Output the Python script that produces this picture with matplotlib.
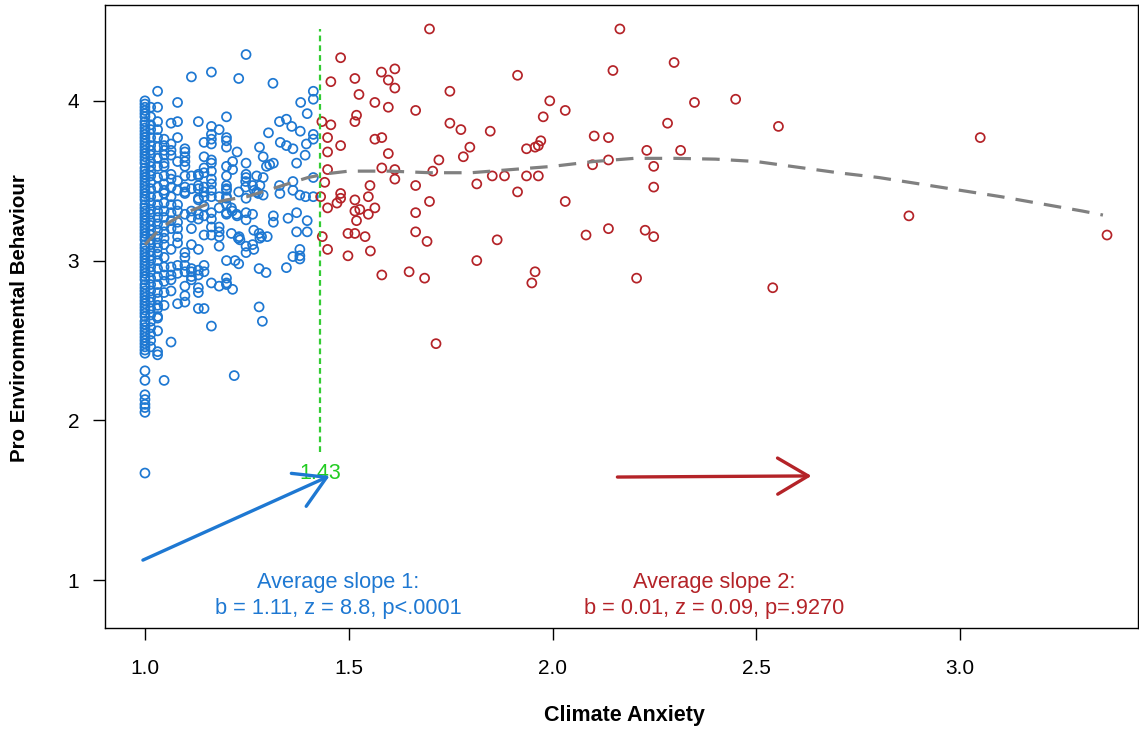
import matplotlib
matplotlib.use('Agg')
import matplotlib.pyplot as plt
from matplotlib import font_manager

names = {f.name for f in font_manager.fontManager.ttflist}
FONT = 'Liberation Sans' if 'Liberation Sans' in names else 'DejaVu Sans'
plt.rcParams['font.family'] = [FONT, 'DejaVu Sans']

BLUE = '#1E78D2'
RED = '#B42328'
GREEN = '#33CC33'
GREY = '#808080'

# ---------------- data ----------------
# Blue group (Climate Anxiety below split): dense columns
blue_col_x = [1.000, 1.014, 1.031, 1.047, 1.064, 1.080, 1.098, 1.114, 1.131, 1.145,
              1.163, 1.182, 1.200]
blue_col_y = [
    [4.00, 3.98, 3.96, 3.94, 3.92, 3.90, 3.87, 3.85, 3.83, 3.81, 3.79, 3.77, 3.75, 3.73,
     3.71, 3.69, 3.67, 3.65, 3.63, 3.61, 3.58, 3.56, 3.54, 3.52, 3.50, 3.48, 3.46, 3.44,
     3.42, 3.40, 3.38, 3.35, 3.33, 3.31, 3.29, 3.27, 3.25, 3.23, 3.21, 3.19, 3.17, 3.15,
     3.13, 3.10, 3.08, 3.06, 3.04, 3.02, 3.00, 2.98, 2.96, 2.94, 2.92, 2.90, 2.88, 2.85,
     2.83, 2.81, 2.79, 2.77, 2.75, 2.73, 2.71, 2.69, 2.67, 2.65, 2.62, 2.60, 2.58, 2.56,
     2.54, 2.52, 2.50, 2.48, 2.46, 2.44, 2.42, 2.31, 2.25, 2.16, 2.13, 2.10, 2.08, 2.05,
     1.67],
    [3.96, 3.90, 3.85, 3.82, 3.77, 3.72, 3.69, 3.66, 3.62, 3.59, 3.56, 3.53, 3.49, 3.45,
     3.40, 3.36, 3.32, 3.29, 3.25, 3.22, 3.19, 3.16, 3.13, 3.10, 3.06, 3.03, 3.00, 2.96,
     2.93, 2.89, 2.85, 2.81, 2.77, 2.74, 2.70, 2.66, 2.62, 2.58, 2.54, 2.50, 2.46],
    [4.06, 3.96, 3.87, 3.82, 3.77, 3.71, 3.64, 3.59, 3.52, 3.46, 3.40, 3.35, 3.31, 3.27,
     3.23, 3.19, 3.15, 3.11, 3.08, 3.04, 3.00, 2.95, 2.90, 2.85, 2.80, 2.76, 2.72, 2.70,
     2.65, 2.64, 2.56, 2.43, 2.41],
    [3.76, 3.72, 3.69, 3.66, 3.61, 3.59, 3.53, 3.48, 3.44, 3.42, 3.36, 3.31, 3.27, 3.22,
     3.18, 3.14, 3.10, 3.02, 2.96, 2.91, 2.87, 2.80, 2.72, 2.25],
    [3.86, 3.73, 3.69, 3.66, 3.54, 3.51, 3.46, 3.40, 3.35, 3.30, 3.25, 3.20, 3.07, 2.96,
     2.91, 2.88, 2.81, 2.49],
    [3.99, 3.87, 3.77, 3.62, 3.50, 3.44, 3.35, 3.31, 3.24, 3.20, 3.15, 3.11, 2.97, 2.92,
     2.73],
    [3.70, 3.68, 3.65, 3.62, 3.59, 3.53, 3.46, 3.43, 3.42, 3.29, 3.05, 3.02, 2.97, 2.93,
     2.84, 2.78, 2.74],
    [4.15, 3.53, 3.45, 3.31, 3.27, 3.20, 3.10, 2.95, 2.93, 2.90, 2.88],
    [3.87, 3.54, 3.53, 3.47, 3.45, 3.39, 3.38, 3.29, 3.26, 3.07, 2.94, 2.91, 2.83, 2.80,
     2.70],
    [3.74, 3.65, 3.58, 3.55, 3.46, 3.43, 3.40, 3.34, 3.28, 3.16, 2.97, 2.93, 2.70],
    [4.18, 3.84, 3.79, 3.76, 3.73, 3.63, 3.61, 3.56, 3.51, 3.48, 3.44, 3.40, 3.30, 3.26,
     3.21, 3.16, 2.86, 2.59],
    [3.82, 3.40, 3.33, 3.21, 3.18, 3.15, 3.09, 2.84],
    [3.90, 3.77, 3.75, 3.71, 3.59, 3.53, 3.47, 3.45, 3.44, 3.40, 3.39, 3.35, 3.30, 3.29,
     3.00, 2.89, 2.86, 2.85],
]
# Blue group: scattered points
blue_extra_x = [1.215, 1.215, 1.230, 1.212, 1.225, 1.212, 1.229, 1.233, 1.221, 1.230,
                1.215, 1.214, 1.226, 1.231, 1.226, 1.219, 1.230,
                1.248, 1.248, 1.248, 1.248, 1.247, 1.247, 1.248, 1.248, 1.248, 1.248, 1.248,
                1.264, 1.274, 1.274, 1.264, 1.264, 1.267, 1.267, 1.268, 1.278,
                1.281, 1.290, 1.290, 1.290, 1.298, 1.306, 1.303, 1.280, 1.286, 1.300, 1.280,
                1.297, 1.280, 1.288, 1.282, 1.282,
                1.314, 1.315, 1.315, 1.315, 1.330, 1.332, 1.330, 1.331,
                1.347, 1.360, 1.347, 1.363, 1.363, 1.363, 1.351, 1.363, 1.347,
                1.382, 1.381, 1.396, 1.393, 1.372, 1.380, 1.394, 1.372, 1.398, 1.372, 1.398,
                1.380, 1.380, 1.380, 1.398,
                1.413, 1.413, 1.413, 1.413, 1.413, 1.413]
blue_extra_y = [3.62, 3.57, 3.43, 3.33, 3.29, 3.17, 3.14, 3.13, 3.00, 2.98,
                2.82, 3.31, 3.28, 3.15, 3.68, 2.28, 4.14,
                4.29, 3.61, 3.54, 3.52, 3.495, 3.46, 3.30, 3.255, 3.09, 3.05, 3.39,
                3.47, 3.43, 3.53, 3.29, 3.10, 3.07, 3.19, 3.44, 3.42,
                3.71, 3.65, 3.52, 3.41, 3.59, 3.60, 3.80, 3.17, 3.15, 3.15, 2.95,
                2.925, 2.71, 2.62, 3.47, 3.14,
                4.11, 3.61, 3.28, 3.24, 3.87, 3.74, 3.47, 3.42,
                3.885, 3.84, 3.72, 3.70, 3.495, 3.44, 3.265, 3.025, 2.956,
                3.99, 3.81, 3.73, 3.66, 3.61, 3.41, 3.40, 3.30, 3.25, 3.18, 3.18,
                3.07, 3.03, 3.01, 3.92,
                4.06, 4.01, 3.79, 3.76, 3.52, 3.40]

# Red group (Climate Anxiety above split)
red_x = [1.480, 1.456, 1.515, 1.525, 1.580, 1.613, 1.597, 1.613, 1.698, 1.564,
         1.597, 1.664, 1.748, 1.914, 1.993, 1.977, 1.434, 1.456, 1.519, 1.515,
         1.748, 1.775, 1.847, 1.448, 1.564, 1.581, 1.480, 1.448, 1.597, 1.797,
         1.781, 1.721, 1.936, 1.957, 1.965, 1.971, 1.448, 1.581, 1.613, 1.706,
         1.613, 1.441, 1.431, 1.552, 1.664, 1.814, 1.852, 1.882, 1.936, 1.965,
         1.914, 1.480, 1.480, 1.548, 1.471, 1.448, 1.515, 1.515, 1.527, 1.564,
         1.548, 1.664, 1.698, 1.519, 1.435, 1.498, 1.515, 1.540, 1.664, 1.692,
         1.864, 1.448, 1.553, 1.498, 1.814, 1.581, 1.648, 1.686, 1.957, 1.949,
         1.714, 2.165, 2.298, 2.148, 2.031, 2.348, 2.449, 2.282, 2.554, 2.102,
         2.137, 2.231, 2.314, 2.098, 2.137, 2.248, 2.248, 2.031, 2.082, 2.137,
         2.227, 2.248, 2.206, 2.540, 3.049, 2.874, 3.360]
red_y = [4.27, 4.12, 4.14, 4.04, 4.18, 4.20, 4.13, 4.08, 4.45, 3.99,
         3.96, 3.94, 4.06, 4.16, 4.00, 3.90, 3.87, 3.85, 3.91, 3.87,
         3.86, 3.82, 3.81, 3.77, 3.76, 3.77, 3.72, 3.68, 3.67, 3.71,
         3.65, 3.63, 3.70, 3.71, 3.72, 3.75, 3.57, 3.58, 3.57, 3.56,
         3.51, 3.49, 3.40, 3.47, 3.47, 3.48, 3.53, 3.53, 3.53, 3.53,
         3.43, 3.42, 3.39, 3.40, 3.36, 3.33, 3.38, 3.31, 3.32, 3.33,
         3.29, 3.30, 3.37, 3.25, 3.15, 3.17, 3.17, 3.15, 3.18, 3.12,
         3.13, 3.07, 3.06, 3.03, 3.00, 2.91, 2.93, 2.89, 2.93, 2.86,
         2.48, 4.45, 4.24, 4.19, 3.94, 3.99, 4.01, 3.86, 3.84, 3.78,
         3.77, 3.69, 3.69, 3.60, 3.63, 3.59, 3.46, 3.37, 3.16, 3.20,
         3.19, 3.15, 2.89, 2.83, 3.77, 3.28, 3.16]

# Smoothed overall trend (grey dashed curve)
curve_x = [1.00, 1.03, 1.06, 1.10, 1.15, 1.20, 1.25, 1.30, 1.35, 1.40, 1.45, 1.50,
           1.60, 1.70, 1.80, 1.90, 2.00, 2.10, 2.20, 2.30, 2.40, 2.50, 2.60, 2.70,
           2.80, 2.90, 3.00, 3.10, 3.20, 3.30, 3.35]
curve_y = [3.10, 3.18, 3.24, 3.30, 3.35, 3.38, 3.40, 3.44, 3.48, 3.52, 3.545, 3.56,
           3.56, 3.55, 3.55, 3.57, 3.59, 3.62, 3.64, 3.64, 3.635, 3.62, 3.585, 3.55,
           3.52, 3.48, 3.44, 3.40, 3.355, 3.31, 3.285]

split_point = 1.43
split_label = '1.43'

slope1_lines = ['Average slope 1:', 'b = 1.11, z = 8.8, p<.0001']
slope2_lines = ['Average slope 2:', 'b = 0.01, z = 0.09, p=.9270']

x_ticks = [1.0, 1.5, 2.0, 2.5, 3.0]
x_ticklabels = ['1.0', '1.5', '2.0', '2.5', '3.0']
y_ticks = [1, 2, 3, 4]
y_ticklabels = ['1', '2', '3', '4']

# ---------------- figure ----------------
W, H = 1139, 729
fig = plt.figure(figsize=(W / 100, H / 100), dpi=100)
ax = fig.add_axes([105 / W, 1 - 628 / H, (1138 - 105) / W, (628 - 5) / H])
ax.set_xlim(0.902, 3.436)
ax.set_ylim(0.70, 4.60)

bx, by = [], []
for cx, ys in zip(blue_col_x, blue_col_y):
    bx += [cx] * len(ys)
    by += ys
bx += blue_extra_x
by += blue_extra_y

ax.scatter(bx, by, s=42, facecolors='none', edgecolors=BLUE, linewidths=1.25, zorder=2)
ax.scatter(red_x, red_y, s=42, facecolors='none', edgecolors=RED, linewidths=1.25, zorder=2)

ax.plot(curve_x, curve_y, color=GREY, lw=2.3, ls=(0, (5.5, 3.5)), zorder=3)

all_y = by + red_y
ymin, ymax = min(all_y), max(all_y)
ax.plot([split_point, split_point], [ymin + 0.13, ymax], color=GREEN, lw=1.6,
        ls=(0, (2.6, 1.8)), zorder=3)
ax.text(split_point, ymin, split_label, color='#22CC22', ha='center', va='center',
        fontsize=15.5, zorder=4)

# arrows
arrow1_start, arrow1_end = (0.995, 1.125), (1.453, 1.652)
arrow2_start, arrow2_end = (2.159, 1.645), (2.635, 1.652)
for (s, e, c) in [(arrow1_start, arrow1_end, BLUE), (arrow2_start, arrow2_end, RED)]:
    ax.annotate('', xy=e, xytext=s,
                arrowprops=dict(arrowstyle='->,head_length=2.2,head_width=1.3',
                                color=c, lw=2.4, shrinkA=0, shrinkB=0,
                                mutation_scale=10), zorder=5)

# slope texts
for lines, xc, col in [(slope1_lines, 1.475, BLUE), (slope2_lines, 2.397, RED)]:
    ax.text(xc, 0.987, lines[0], color=col, ha='center', va='center', fontsize=15.7)
    ax.text(xc, 0.825, lines[1], color=col, ha='center', va='center', fontsize=15.7)

ax.set_xticks(x_ticks)
ax.set_xticklabels(x_ticklabels)
ax.set_yticks(y_ticks)
ax.set_yticklabels(y_ticklabels)
ax.tick_params(direction='out', length=8.5, width=1, labelsize=15, colors='black')
ax.tick_params(axis='x', pad=14)
ax.tick_params(axis='y', pad=10)
for sp in ax.spines.values():
    sp.set_linewidth(1.0)

fig.text(624 / W, 1 - 715 / H, 'Climate Anxiety', ha='center', va='center',
         fontsize=15.5, fontweight='bold')
fig.text(20 / W, 1 - 318 / H, 'Pro Environmental Behaviour', ha='center', va='center',
         rotation=90, fontsize=14.8, fontweight='bold')

fig.savefig('out.png', dpi=100)
